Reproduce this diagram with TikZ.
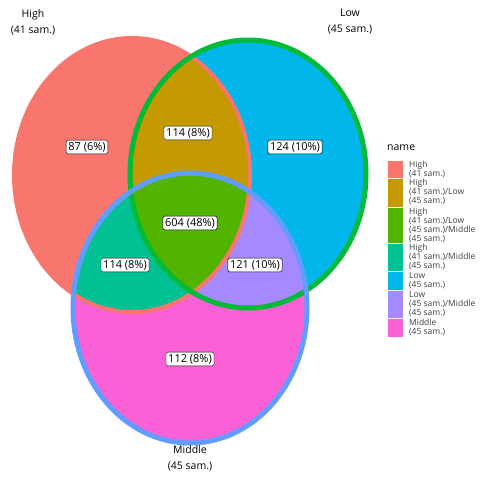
\documentclass[tikz,border=0pt]{standalone}
\usepackage{fontspec}
\setmainfont{Open Sans}
\usetikzlibrary{positioning}
\definecolor{cHigh}{HTML}{F8766D}
\definecolor{cHighLow}{HTML}{C49A00}
\definecolor{cAll}{HTML}{53B400}
\definecolor{cHighMid}{HTML}{00C094}
\definecolor{cLow}{HTML}{00B6EB}
\definecolor{cLowMid}{HTML}{A58AFF}
\definecolor{cMid}{HTML}{FB61D7}
\definecolor{eLow}{HTML}{00BA38}
\definecolor{eMid}{HTML}{619CFF}
\newcommand\setHigh{(132,175) ellipse [x radius=118pt, y radius=137pt]}
\newcommand\setLow{(248,174) ellipse [x radius=118pt, y radius=134pt]}
\newcommand\setMid{(190,308) ellipse [x radius=117pt, y radius=135pt]}
\tikzset{
  count/.style={draw=black, fill=white, rounded corners=1.5pt, line width=0.4pt,
    inner xsep=2.2pt, inner ysep=2pt, font=\fontsize{11}{12}\selectfont},
  setname/.style={align=center, font=\fontsize{10.5}{16}\selectfont},
  keybox/.style={draw=white, line width=0.6pt},
  keytext/.style={anchor=north west, align=left, inner sep=0pt,
    font=\fontsize{8.5}{9}\selectfont, text=black!75}
}
\begin{document}
\begin{tikzpicture}[x=1pt, y=-1pt]
  \useasboundingbox[fill=white] (0,0) rectangle (480,480);
  % regions
  \fill[cHigh] \setHigh;
  \fill[cLow] \setLow;
  \fill[cMid] \setMid;
  \begin{scope}
    \clip \setHigh;
    \fill[cHighLow] \setLow;
    \fill[cHighMid] \setMid;
  \end{scope}
  \begin{scope}
    \clip \setLow;
    \fill[cLowMid] \setMid;
  \end{scope}
  \begin{scope}
    \clip \setHigh;
    \clip \setLow;
    \fill[cAll] \setMid;
  \end{scope}
  % edges
  \draw[cHigh, line width=4pt] \setHigh;
  \draw[eLow, line width=5pt] \setLow;
  \draw[eMid, line width=5pt] \setMid;
  % counts
  \node[count] (nHigh) at (87,147) {87 (6\%)};
  \node[count] (nHighLow) at (188,133) {114 (8\%)};
  \node[count] (nLow) at (295,147) {124 (10\%)};
  \node[count] (nAll) at (190,223) {604 (48\%)};
  \node[count] (nHighMid) at (125,265) {114 (8\%)};
  \node[count] (nLowMid) at (255,265) {121 (10\%)};
  \node[count] (nMid) at (190,359) {112 (8\%)};
  % set names
  \node[setname] (tHigh) at (33,22) {High\\(41 sam.)};
  \node[setname] (tLow) at (350,22) {Low\\(45 sam.)};
  \node[setname] (tMid) at (190,458) {Middle\\(45 sam.)};
  % legend
  \node[anchor=west, inner sep=0pt, font=\fontsize{10.5}{12}\selectfont] (lgTitle) at (387,148) {name};
  \foreach \col/\ya/\yb/\txt in {
      cHigh/160/178/{High\\(41 sam.)},
      cHighLow/178/207/{High\\(41 sam.)/Low\\(45 sam.)},
      cAll/207/243/{High\\(41 sam.)/Low\\(45 sam.)/Middle\\(45 sam.)},
      cHighMid/243/271/{High\\(41 sam.)/Middle\\(45 sam.)},
      cLow/271/290/{Low\\(45 sam.)},
      cLowMid/290/318/{Low\\(45 sam.)/Middle\\(45 sam.)},
      cMid/318/337/{Middle\\(45 sam.)}} {
    \fill[\col, keybox] (387,\ya) rectangle (403,\yb);
    \node[keytext] at (409,\ya+1) {\txt};
  }
\end{tikzpicture}
\end{document}
